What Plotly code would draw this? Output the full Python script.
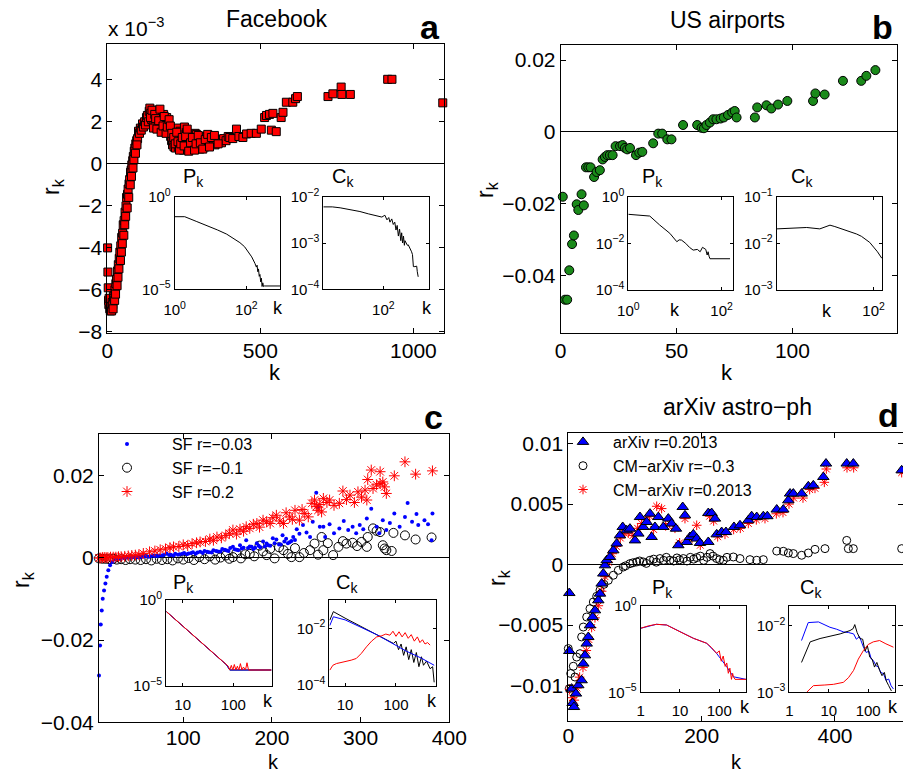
import plotly.graph_objects as go

W, H = 903, 775
FONT = "Liberation Sans, Arial, sans-serif"

# ---------------- DATA ----------------
# (a) Facebook: r_k in units of 1e-3
fb_k = [1, 2, 3, 4, 5, 6, 8, 10, 12, 14,
        16, 18, 20, 22, 25, 28, 30, 33, 36, 39,
        41, 44, 47, 50, 52, 55, 58, 61, 63, 66,
        68, 71, 73, 76, 78, 80, 83, 85, 88, 90,
        93, 96, 99, 102, 105, 108, 111, 115, 118, 122,
        125, 128, 131, 134, 137, 139, 142, 145, 148, 150,
        153, 156, 160, 163, 166, 170, 173, 177, 180, 184,
        187, 190, 194, 197, 200, 204, 207, 210, 213, 215,
        218, 220, 223, 226, 229, 232, 235, 238, 241, 243,
        246, 249, 252, 255, 259, 262, 265, 268, 270, 273,
        276, 280, 283, 287, 291, 295, 298, 302, 306, 310,
        314, 318, 324, 330, 336, 342, 346, 352, 358, 365,
        373, 380, 388, 395, 400, 410, 422, 430, 443, 455,
        470, 487, 503, 514, 520, 530, 536, 541, 552, 568,
        574, 585, 606, 615, 621, 721, 737, 764, 766, 794,
        916, 930, 1096,
        141, 146, 151, 155, 158, 162, 168, 172, 176, 182,
        186, 192, 196, 202, 206, 211, 217, 222, 227, 231,
        236, 240, 245, 251, 256, 261, 266, 272, 278, 285,
        290, 297, 304, 312, 320, 328, 334, 340, 350, 362,
        19, 24, 27, 32, 35, 38, 43, 46, 49, 54,
        57, 60, 65, 70, 75, 79, 84, 87, 92, 97]
fb_r_e3 = [-4.0, -5.15, -5.9, -6.5, -6.7, -6.4, -6.9, -7.0, -6.8, -7.0,
           -6.6, -6.7, -6.3, -6.4, -6.0, -5.7, -5.5, -5.1, -4.8, -4.5,
           -4.2, -3.9, -3.5, -3.3, -2.9, -2.7, -2.3, -2.0, -1.6, -1.45,
           -1.2, -0.95, -0.75, -0.4, -0.3, -0.05, 0.15, 0.35, 0.6, 0.75,
           0.95, 1.1, 1.2, 1.55, 1.45, 1.7, 1.6, 1.9, 1.75, 2.0,
           1.85, 2.2, 2.3, 2.0, 2.5, 2.65, 2.4, 2.1, 2.3, 2.0,
           2.5, 1.8, 2.2, 2.55, 2.5, 1.9, 2.3, 1.9, 2.1, 2.35,
           1.7, 2.0, 2.2, 1.6, 1.9, 1.55, 1.3, 1.1, 0.9, 1.1,
           0.8, 1.35, 0.75, 1.0, 1.7, 0.8, 1.2, 1.55, 0.7, 1.4,
           1.0, 0.65, 1.75, 0.9, 1.5, 0.8, 1.2, 0.7, 0.86, 1.3,
           0.75, 1.1, 0.9, 1.45, 1.4, 0.8, 1.2, 0.7, 1.05, 0.9,
           1.3, 0.8, 1.25, 0.95, 1.1, 1.0, 1.05, 0.9, 1.15, 1.1,
           1.0, 1.2, 1.1, 1.3, 1.25, 1.2, 1.65, 1.3, 1.25, 1.42,
           1.45, 1.45, 1.65, 2.2, 2.3, 2.35, 1.6, 2.4, 1.53, 2.2,
           2.45, 2.93, 2.93, 3.1, 3.2, 3.2, 3.33, 3.65, 3.3, 3.3,
           4.02, 4.02, 2.9,
           2.2, 2.55, 1.7, 2.35, 2.15, 1.65, 2.05, 2.6, 1.5, 1.8,
           2.25, 1.45, 1.75, 2.1, 1.8, 1.45, 1.25, 0.95, 1.5, 1.05,
           0.65, 0.95, 1.25, 0.85, 1.3, 1.65, 0.6, 1.0, 1.25, 0.65,
           0.95, 1.35, 1.0, 0.7, 1.15, 1.4, 0.8, 1.25, 1.35, 0.95,
           -6.9, -6.5, -6.2, -5.8, -5.4, -5.0, -4.6, -4.2, -3.8, -3.4,
           -2.9, -2.5, -2.1, -1.6, -1.0, -0.6, -0.2, 0.2, 0.5, 0.9]
fb_pk_logk = [0, 0.28, 0.6, 0.99, 1.2, 1.45, 1.65, 1.82, 1.95, 2.06, 2.15, 2.24, 2.28, 2.30,
              2.32, 2.34, 2.36, 2.38, 2.40, 2.42, 2.44, 2.46, 2.48, 2.5, 2.94]
fb_pk_logp = [-1.08, -1.08, -1.33, -1.62, -1.8, -2.02, -2.25, -2.48, -2.7, -2.97, -3.25, -3.6, -3.8, -3.7,
              -4.05, -3.9, -4.3, -4.2, -4.6, -4.4, -4.85, -4.65, -4.85, -4.82, -4.82]
fb_ck_logk = [0, 0.3, 0.56, 0.9, 1.22, 1.5, 1.78, 1.95, 2.05, 2.12, 2.18, 2.22, 2.28, 2.33, 2.38, 2.42,
              2.46, 2.5, 2.54, 2.58, 2.61, 2.64, 2.67, 2.7, 2.72, 2.76, 2.8, 2.83, 2.88, 2.94, 2.97,
              3.0, 3.05, 3.11, 3.13, 3.16]
fb_ck_logc = [-2.22, -2.22, -2.24, -2.28, -2.32, -2.37, -2.42, -2.44, -2.40, -2.50, -2.45, -2.55, -2.48,
              -2.60, -2.55, -2.72, -2.62, -2.85, -2.70, -2.95, -2.78, -3.0, -2.85, -3.05, -2.95, -3.02,
              -3.05, -3.04, -3.1, -3.19, -3.25, -3.51, -3.51, -3.5, -3.62, -3.73]

# (b) US airports
ap_k = [0.9, 1.85, 2.8, 3.7, 4.9, 5.7, 6.9, 7.6, 9.0, 10.0,
        10.9, 11.9, 12.9, 14.4, 15.5, 16.9, 18.1, 19.1, 20.1, 21.2,
        22.4, 23.7, 25.6, 26.7, 27.7, 28.7, 29.9, 32.5, 33.9, 35.2,
        39.9, 42.1, 43.8, 46.0, 47.8, 52.8, 58.9, 60.8, 61.8, 62.9,
        64.4, 65.8, 67.2, 69.0, 70.4, 72.2, 74.0, 75.1, 75.9, 83.8,
        84.8, 88.8, 90.9, 93.8, 97.8, 108.9, 109.9, 113.9, 121.8, 129.7,
        131.9, 135.8, 145.1]
ap_r = [-0.0181, -0.0468, -0.0468, -0.0386, -0.0313, -0.0289, -0.0202, -0.0218, -0.0174, -0.0205,
        -0.0099, -0.0099, -0.0099, -0.0126, -0.0112, -0.0107, -0.0077, -0.0070, -0.0065, -0.0065,
        -0.0065, -0.0040, -0.0040, -0.0037, -0.0045, -0.0049, -0.0045, -0.0065, -0.0058, -0.0056,
        -0.0032, -0.0005, -0.0005, -0.0021, -0.0021, 0.0019, 0.0019, 0.0011, 0.0010, 0.0019,
        0.0026, 0.0035, 0.0035, 0.0037, 0.0040, 0.0047, 0.0054, 0.0058, 0.0040, 0.0040,
        0.0068, 0.0074, 0.0065, 0.0076, 0.0086, 0.0086, 0.0107, 0.0104, 0.0142, 0.0142,
        0.0156, 0.0172, 0.0172]
ap_pk_logk = [0, 0.46, 0.67, 0.89, 1.04, 1.09, 1.14, 1.23, 1.31, 1.39, 1.48, 1.54, 1.59, 1.66, 1.69,
              1.71, 1.73, 1.75, 2.18]
ap_pk_logp = [-0.755, -0.83, -1.21, -1.57, -1.93, -1.85, -1.86, -2.0, -2.17, -2.29, -2.26, -2.36, -2.17,
              -2.26, -2.5, -2.36, -2.55, -2.66, -2.66]
ap_ck_logk = [0, 0.62, 0.89, 1.0, 1.10, 1.2, 1.38, 1.5, 1.65, 1.75, 1.86, 1.92, 2.0, 2.08, 2.17]
ap_ck_logc = [-1.69, -1.66, -1.69, -1.64, -1.61, -1.64, -1.70, -1.74, -1.80, -1.85, -1.93, -1.98, -2.08,
              -2.18, -2.32]

# (c) scale-free models
sf1_k = [5, 6.2, 7, 8.1, 9.2, 10.7, 12.2, 13.7, 15.5, 17.5,
         20, 23, 28.7, 33, 38, 43, 48, 53, 58, 63,
         68, 73, 78, 81, 86, 91, 96, 101, 106, 111,
         116, 119, 124, 129, 134, 139, 144, 149, 153, 156,
         160, 164, 168, 171, 175, 179, 183, 187, 190, 194,
         198, 201, 205, 208, 212, 216, 220, 224, 228, 231,
         235, 239, 243, 246, 250, 252, 254, 258, 260, 265,
         270, 276, 281, 286, 291, 295, 299, 303, 307, 312,
         318, 321, 325, 329, 333, 338, 344, 350, 353, 358,
         363, 365, 372, 376, 381, 380,
         26, 31, 36, 41, 46, 51, 56, 61, 66, 71,
         76, 84, 89, 94, 99, 104, 109, 114, 122, 127,
         132, 137, 142, 147, 151, 158, 162, 166, 173, 177,
         181, 185, 192, 196, 203, 210, 214, 218, 222, 226]
sf1_r = [-0.0286, -0.0213, -0.0162, -0.0128, -0.0099, -0.0079, -0.0062, -0.0046, -0.0030, -0.0018,
         -0.0010, -0.0004, -0.0002, 0.0000, 0.0001, 0.0002, 0.0002, 0.0003, 0.0004, 0.0004,
         0.0005, 0.0006, 0.0007, 0.0011, 0.0008, 0.0010, 0.0009, 0.0012, 0.0011, 0.0014,
         0.0013, 0.0015, 0.0017, 0.0014, 0.0019, 0.0016, 0.0022, 0.0018, 0.0024, 0.0027,
         0.0020, 0.0031, 0.0025, 0.0043, 0.0028, 0.0022, 0.0036, 0.0026, 0.0040, 0.0035,
         0.0030, 0.0048, 0.0045, 0.0033, 0.0055, 0.0047, 0.0038, 0.0051, 0.0070, 0.0059,
         0.0080, 0.0062, 0.0051, 0.0088, 0.0159, 0.0124, 0.0076, 0.0076, 0.0051, 0.0082,
         0.0060, 0.0072, 0.0090, 0.0068, 0.0076, 0.0060, 0.0080, 0.0070, 0.0096, 0.0120,
         0.0076, 0.0060, 0.0092, 0.0068, 0.0085, 0.0108, 0.0076, 0.0100, 0.0134, 0.0088,
         0.0107, 0.0080, 0.0092, 0.0082, 0.0108, 0.0043,
         -0.0001, 0.0001, 0.0001, 0.0002, 0.0003, 0.0002, 0.0004, 0.0003, 0.0006, 0.0005,
         0.0006, 0.0007, 0.0006, 0.0008, 0.0010, 0.0009, 0.0012, 0.0010, 0.0012, 0.0015,
         0.0013, 0.0017, 0.0016, 0.0020, 0.0017, 0.0021, 0.0019, 0.0023, 0.0024, 0.0027,
         0.0025, 0.0030, 0.0028, 0.0031, 0.0036, 0.0033, 0.0040, 0.0036, 0.0041, 0.0044]
sf2_k = [5, 9, 13, 17, 21, 25, 30, 35, 40, 46,
         52, 58, 64, 70, 76, 82, 88, 94, 100, 106,
         112, 118, 124, 130, 136, 142, 148, 152, 156, 160,
         165, 170, 175, 180, 186, 190, 194, 198, 203, 208,
         213, 218, 222, 226, 231, 236, 243, 248, 252, 256,
         258, 263, 269, 275, 280, 284, 291, 296, 301, 307,
         308, 314, 318, 322, 325, 327, 329, 335, 337, 350,
         362, 380]
sf2_r = [-0.0001, -0.0002, -0.0002, -0.0003, -0.0002, -0.0004, -0.0003, -0.0005, -0.0003, -0.0004,
         -0.0005, -0.0003, -0.0006, -0.0002, -0.0005, -0.0003, -0.0006, -0.0001, -0.0004, 0.0000,
         -0.0005, 0.0002, -0.0003, 0.0004, -0.0004, 0.0001, 0.0006, -0.0002, 0.0002, 0.0012,
         -0.0001, 0.0009, 0.0010, 0.0004, 0.0030, 0.0016, 0.0007, 0.0022, -0.0001, 0.0026,
         0.0019, 0.0010, 0.0002, 0.0024, 0.0002, 0.0012, 0.0019, 0.0035, 0.0008, 0.0051,
         0.0019, 0.0036, 0.0007, 0.0027, 0.0041, 0.0035, 0.0037, 0.0029, 0.0039, 0.0027,
         0.0051, 0.0072, 0.0066, 0.0063, 0.0031, 0.0023, 0.0019, 0.0017, 0.0061, 0.0055,
         0.0045, 0.0050]
sf3_k = [5, 7, 9, 11, 13, 15, 18, 21, 24, 27,
         30, 34, 38, 42, 46, 50, 55, 62, 68, 74,
         80, 85, 89, 95, 100, 105, 110, 115, 119, 125,
         130, 134, 138, 143, 148, 152, 156, 160, 164, 168,
         171, 175, 179, 183, 186, 190, 194, 198, 201, 205,
         209, 213, 216, 220, 223, 226, 231, 234, 237, 241,
         245, 248, 250, 252, 254, 256, 258, 262, 265, 270,
         276, 280, 284, 288, 293, 297, 301, 305, 307, 308,
         312, 314, 318, 322, 322, 325, 327, 329, 338, 350,
         362, 381]
sf3_r = [0.0000, 0.0000, 0.0001, 0.0001, 0.0001, 0.0001, 0.0002, 0.0002, 0.0002, 0.0003,
         0.0003, 0.0004, 0.0005, 0.0006, 0.0007, 0.0008, 0.0011, 0.0015, 0.0017, 0.0020,
         0.0022, 0.0025, 0.0027, 0.0028, 0.0032, 0.0030, 0.0035, 0.0037, 0.0039, 0.0040,
         0.0046, 0.0043, 0.0051, 0.0049, 0.0055, 0.0060, 0.0068, 0.0058, 0.0070, 0.0065,
         0.0076, 0.0072, 0.0082, 0.0084, 0.0075, 0.0092, 0.0088, 0.0084, 0.0098, 0.0104,
         0.0090, 0.0084, 0.0110, 0.0100, 0.0094, 0.0116, 0.0092, 0.0118, 0.0108, 0.0100,
         0.0133, 0.0141, 0.0125, 0.0116, 0.0130, 0.0112, 0.0145, 0.0135, 0.0141, 0.0128,
         0.0133, 0.0163, 0.0142, 0.0153, 0.0135, 0.0161, 0.0148, 0.0165, 0.0141, 0.0191,
         0.0214, 0.0169, 0.0178, 0.0210, 0.0181, 0.0185, 0.0173, 0.0157, 0.0200, 0.0234,
         0.0204, 0.0212]
sf_pk_logk = [0.68, 1.0, 1.3, 1.6, 1.75, 1.87, 1.93, 2.75]
sf_pk_logp = [-0.68, -1.52, -2.3, -3.08, -3.47, -3.78, -4.07, -4.07]
sf3_pk_logk = [0.68, 1.0, 1.3, 1.6, 1.7, 1.75, 1.8, 1.84, 1.87, 1.9, 1.93, 1.96, 1.99, 2.02, 2.05, 2.08,
               2.11, 2.14, 2.17, 2.2, 2.24, 2.27, 2.3, 2.75]
sf3_pk_logp = [-0.68, -1.52, -2.3, -3.08, -3.3, -3.48, -3.62, -3.7, -3.78, -3.85, -4.07, -3.8, -4.07,
               -3.75, -4.07, -3.85, -4.07, -3.7, -4.07, -3.9, -4.07, -3.65, -4.07, -4.07]
sf2_ck_logk = [0.70, 0.77, 1.0, 1.3, 1.62, 1.8, 1.95, 2.0, 2.05, 2.1, 2.15, 2.2, 2.25, 2.3, 2.35, 2.4,
               2.45, 2.5, 2.54, 2.6, 2.67, 2.72, 2.75]
sf2_ck_logc = [-1.71, -1.41, -1.64, -1.93, -2.23, -2.4, -2.53, -2.45, -2.75, -2.55, -2.95, -2.65, -3.1,
               -2.75, -3.2, -2.85, -3.35, -3.0, -3.3, -3.15, -3.42, -3.35, -3.9]
sf1_ck_logk = [0.70, 0.77, 1.0, 1.3, 1.62, 1.9, 2.2, 2.5, 2.75]
sf1_ck_logc = [-1.9, -1.59, -1.7, -1.95, -2.22, -2.5, -2.8, -3.05, -3.3]
sf3_ck_logk = [0.70, 0.76, 0.83, 0.93, 1.03, 1.12, 1.22, 1.32, 1.42, 1.52, 1.62, 1.72, 1.8, 1.88, 1.94,
               2.0, 2.06, 2.12, 2.18, 2.24, 2.3, 2.36, 2.42, 2.47, 2.52, 2.57, 2.62, 2.67]
sf3_ck_logc = [-3.47, -3.3, -3.24, -3.2, -3.18, -3.12, -3.06, -2.88, -2.65, -2.45, -2.30, -2.26, -2.2,
               -2.24, -2.1, -2.28, -2.12, -2.3, -2.15, -2.35, -2.22, -2.45, -2.3, -2.5, -2.4, -2.55,
               -2.5, -2.59]

# (d) arXiv astro-ph
ax_k = [1.5, 1.5, 5, 6.5, 8.5, 11.5, 15, 20, 22.5, 25,
        27.6, 30, 32.5, 36.6, 40, 45, 47.5, 50, 52.5, 55,
        57.6, 62.5, 67.5, 72.6, 77.5, 81.6, 87.6, 92.5, 100, 105,
        107.5, 112.5, 117.6, 122.5, 125, 130, 135, 142.5, 150, 155,
        161.5, 165, 171.6, 175, 177.6, 182.5, 187.5, 192.6, 197.5, 210,
        210, 215, 220, 222.6, 230, 236.5, 248.5, 257.5, 270, 275,
        282.6, 292.5, 298.5, 312.6, 322.5, 330, 332.6, 337.5, 350, 360,
        367.5, 382.5, 386.5, 417.6, 427.5, 500]
ax_r = [-0.00235, -0.00714, -0.01025, -0.01144, -0.01177, -0.01066, -0.00997, -0.00956, -0.00818, -0.0075,
        -0.00653, -0.00598, -0.00502, -0.00433, -0.00378, -0.00295, -0.0024, -0.00157, -0.00074, -0.00006,
        0.00036, 0.00063, 0.00118, 0.00174, 0.00242, 0.00311, 0.00283, 0.00297, 0.002, 0.00256,
        0.00393, 0.00311, 0.00352, 0.00421, 0.00228, 0.00311, 0.00393, 0.00311, 0.0038, 0.00339,
        0.00297, 0.0016, 0.00476, 0.00407, 0.00187, 0.00228, 0.0025, 0.00215, 0.00179, 0.00187,
        0.00426, 0.00426, 0.0038, 0.0025, 0.00269, 0.00269, 0.00311, 0.00325, 0.00366, 0.004,
        0.00393, 0.004, 0.004, 0.00455, 0.00455, 0.00531, 0.00587, 0.00587, 0.00587, 0.00647,
        0.00655, 0.00724, 0.00835, 0.00835, 0.00835, 0.00779]
cm1_k = [0, 1.5, 3.6, 7.5, 10, 12.6, 17.5, 20, 22.5, 27.6,
         32.5, 37.5, 42.6, 47.5, 53.5, 60, 67.5, 75, 82.5, 92.5,
         102.6, 112.5, 122.5, 137.5, 152.5, 172.5, 192.6, 212.6, 222.6, 232.5,
         247.5, 257.5, 272.5, 282.6, 292.5, 312.6, 322.5, 330, 337.5, 350,
         360, 370, 385, 417.6, 420, 427.5, 500,
         86, 97, 107, 117, 128, 132, 143, 147, 158, 163,
         167, 178, 183, 188, 198, 203, 208, 217, 227, 238]
cm1_r = [-0.00694, -0.01025, -0.009, -0.0084, -0.00929, -0.00764, -0.00736, -0.00598, -0.00516, -0.00433,
         -0.00364, -0.00309, -0.00262, -0.00212, -0.00163, -0.0013, -0.00088, -0.00047, -0.0002, 0.00008,
         0.00022, 0.00022, 0.00036, 0.0005, 0.00036, 0.0005, 0.00058, 0.00091, 0.0005, 0.00036,
         0.00063, 0.0005, 0.00041, 0.00036, 0.00041, 0.00112, 0.0011, 0.00096, 0.00091, 0.00077,
         0.00096, 0.00126, 0.00132, 0.002, 0.00132, 0.00132, 0.00132,
         -0.0001, 0.00015, 0.0003, 0.0001, 0.00045, 0.0002, 0.00035, 0.0006, 0.0003, 0.00055,
         0.0004, 0.0003, 0.0006, 0.00045, 0.0007, 0.00035, 0.0006, 0.0007, 0.0004, 0.0006]
cm2_k = [2, 6, 9, 13, 17, 22, 27, 31, 35, 40,
         45, 50, 55, 60, 66, 72, 78, 84, 90, 97,
         104, 110, 116, 122, 128, 132.6, 140, 146, 152, 160,
         167, 175, 182, 192.6, 198, 212, 218, 224, 235, 248,
         258, 270, 282, 295, 312, 322, 331, 338, 352, 362,
         370, 384, 387, 418, 428, 500]
cm2_r = [-0.0103, -0.0110, -0.0112, -0.0102, -0.0093, -0.0085, -0.0071, -0.0062, -0.0052, -0.0044,
         -0.0034, -0.0022, -0.0010, 0.0002, 0.0009, 0.0015, 0.0022, 0.0026, 0.0026, 0.0024,
         0.0030, 0.0034, 0.0037, 0.0040, 0.0029, 0.00482, 0.00463, 0.0032, 0.0034, 0.0030,
         0.0018, 0.0038, 0.0021, 0.00325, 0.0016, 0.0040, 0.0036, 0.0023, 0.0025, 0.0029,
         0.0030, 0.0034, 0.0037, 0.0038, 0.0042, 0.0043, 0.0050, 0.0055, 0.0055, 0.0062,
         0.0063, 0.0068, 0.0079, 0.0080, 0.0080, 0.0076]
ax_pk_logk = [0, 0.4, 0.66, 1.0, 1.34, 1.68, 1.93, 2.19, 2.36, 2.68]
ax_pk_logp = [-1.29, -1.06, -1.10, -1.49, -1.87, -2.16, -2.74, -3.52, -4.1, -4.25]
cm2_pk_logk = [0, 0.2, 0.40, 0.66, 1.0, 1.34, 1.68, 1.8, 1.93, 2.0, 2.05, 2.1, 2.15, 2.19, 2.23, 2.27,
               2.31, 2.34, 2.36, 2.4, 2.68]
cm2_pk_logp = [-1.29, -1.15, -1.06, -1.10, -1.49, -1.87, -2.16, -2.4, -2.74, -2.6, -3.2, -2.9, -3.5,
               -3.3, -3.9, -3.6, -4.25, -3.9, -4.1, -4.25, -4.25]
ax_ck_logk = [0.31, 0.48, 0.74, 1.03, 1.2, 1.37, 1.5, 1.63, 1.7, 1.78, 1.88, 1.95, 2.02, 2.08, 2.13, 2.2,
              2.26, 2.32, 2.39, 2.45, 2.52, 2.58, 2.64]
ax_ck_logc = [-2.22, -1.95, -1.94, -2.02, -2.05, -2.09, -2.1, -2.12, -2.2, -2.16, -2.32, -2.4, -2.38, -2.5,
              -2.52, -2.6, -2.62, -2.7, -2.72, -2.82, -2.8, -2.9, -2.95]
cm1_ck_logk = [0.31, 0.53, 0.78, 1.04, 1.29, 1.54, 1.62, 1.66, 1.72, 1.79, 1.86, 1.92, 1.98, 2.04, 2.1,
               2.16, 2.22, 2.29, 2.35, 2.41, 2.46, 2.52, 2.59]
cm1_ck_logc = [-2.55, -2.24, -2.19, -2.16, -2.12, -2.07, -2.04, -1.98, -2.1, -2.19, -2.2, -2.38, -2.3,
               -2.47, -2.5, -2.62, -2.55, -2.67, -2.75, -2.7, -2.83, -2.9, -2.98]
cm2_ck_logk = [0.44, 0.61, 0.9, 1.12, 1.37, 1.5, 1.63, 1.75, 1.88, 2.0, 2.13, 2.29, 2.45, 2.64]
cm2_ck_logc = [-3.0, -2.9, -2.89, -2.88, -2.85, -2.78, -2.67, -2.5, -2.37, -2.28, -2.24, -2.22, -2.27,
               -2.32]

legend_c = ["SF r=\u22120.03", "SF r=\u22120.1", "SF r=0.2"]
legend_d = ["arXiv r=0.2013", "CM\u2212arXiv r=\u22120.3", "CM\u2212arXiv r=0.2013"]


def pw(v):
    return [10 ** x for x in v]


# ---------------- LAYOUT HELPERS ----------------
def xd(a, b):
    return [a / W, min(b / W, 1.0)]


def yd(top, bottom):
    return [1 - bottom / H, 1 - top / H]


def axis(dom, rng, tickvals, ticktext=None, log=False, size=21, ticklen=5, anchor=None,
         zeroline=False, standoff=None):
    d = dict(domain=dom, range=rng, type="log" if log else "linear", tickmode="array",
             tickvals=tickvals, showline=True, linecolor="black", linewidth=1, mirror="ticks",
             ticks="inside", ticklen=ticklen, tickcolor="black", tickwidth=1, showgrid=False,
             zeroline=zeroline, zerolinecolor="black", zerolinewidth=1, anchor=anchor,
             automargin=False, title=dict(text=""),
             tickfont=dict(size=size, family=FONT, color="black"), fixedrange=True)
    if ticktext is not None:
        d["ticktext"] = ticktext
    if standoff is not None:
        d["ticklabelstandoff"] = standoff
    return d


def sup(e):
    return "10<sup>%s</sup>" % e


layout = {}
# main panels
layout["xaxis"] = axis(xd(107.3, 444), [0, 1100], [0, 500, 1000], anchor="y", standoff=-1)
layout["yaxis"] = axis(yd(44, 333), [-8.05, 5.7], [-8, -6, -4, -2, 0, 2, 4], anchor="x", zeroline=True)
layout["xaxis2"] = axis(xd(560.7, 896.7), [0, 145], [0, 50, 100], anchor="y2", standoff=-1)
layout["yaxis2"] = axis(yd(45, 332.7), [-0.056, 0.0242], [-0.04, -0.02, 0, 0.02],
                        ["\u22120.04", "\u22120.02", "0", "0.02"], anchor="x2", zeroline=True)
layout["xaxis3"] = axis(xd(99, 449.3), [5, 400], [100, 200, 300, 400], anchor="y3", standoff=-4)
layout["yaxis3"] = axis(yd(434.3, 722.3), [-0.04, 0.0301], [-0.04, -0.02, 0, 0.02],
                        ["\u22120.04", "\u22120.02", "0", "0.02"], anchor="x3", zeroline=True)
layout["xaxis4"] = axis(xd(568.3, 903), [0, 502], [0, 200, 400], anchor="y4", standoff=-4)
layout["yaxis4"] = axis(yd(432.7, 720.7), [-0.0129, 0.0109], [-0.01, -0.005, 0, 0.005, 0.01],
                        ["\u22120.01", "\u22120.005", "0", "0.005", "0.01"], anchor="x4", zeroline=True)
# insets
IS = 15
XS = 7
layout["xaxis5"] = axis(xd(174.7, 280), [0, 2.94], [1, 100], [sup(0), sup(2)], True, IS, 3, "y5",
                        standoff=XS)
layout["yaxis5"] = axis(yd(196.7, 289.3), [-5, 0], [1e-5, 1], [sup("\u22125"), sup(0)], True, IS, 3, "x5")
layout["xaxis6"] = axis(xd(323.3, 429.3), [0, 3.53], [100], [sup(2)], True, IS, 3, "y6", standoff=XS)
layout["yaxis6"] = axis(yd(196.7, 289.3), [-4, -2], [1e-4, 1e-3, 1e-2],
                        [sup("\u22124"), sup("\u22123"), sup("\u22122")], True, IS, 3, "x6")
layout["xaxis7"] = axis(xd(628.3, 733.3), [0, 2.25], [1, 100], [sup(0), sup(2)], True, IS, 3, "y7",
                        standoff=XS)
layout["yaxis7"] = axis(yd(196.7, 290), [-4, 0], [1e-4, 1e-2, 1],
                        [sup("\u22124"), sup("\u22122"), sup(0)], True, IS, 3, "x7")
layout["xaxis8"] = axis(xd(776.7, 882.3), [0, 2.18], [100], [sup(2)], True, IS, 3, "y8", standoff=XS)
layout["yaxis8"] = axis(yd(196.7, 290), [-3, -1], [1e-3, 1e-2, 1e-1],
                        [sup("\u22123"), sup("\u22122"), sup("\u22121")], True, IS, 3, "x8")
layout["xaxis9"] = axis(xd(166, 272.3), [0.67, 2.77], [10, 100], ["10", "100"], True, IS, 3, "y9",
                        standoff=XS - 2)
layout["yaxis9"] = axis(yd(600, 686), [-5, 0], [1e-5, 1], [sup("\u22125"), sup(0)], True, IS, 3, "x9")
layout["xaxis10"] = axis(xd(329.3, 435.7), [0.69, 2.78], [10, 100], ["10", "100"], True, IS, 3, "y10",
                         standoff=XS - 2)
layout["yaxis10"] = axis(yd(600, 686), [-4.03, -1.0], [1e-4, 1e-2], [sup("\u22124"), sup("\u22122")],
                         True, IS, 3, "x10")
layout["xaxis11"] = axis(xd(640.7, 746), [0, 2.68], [1, 10, 100], ["1", "10", "100"], True, IS, 3, "y11",
                         standoff=XS - 2)
layout["yaxis11"] = axis(yd(606, 692.3), [-5, 0], [1e-5, 1], [sup("\u22125"), sup(0)], True, IS, 3, "x11")
layout["xaxis12"] = axis(xd(789.3, 895), [0, 2.68], [1, 10, 100], ["1", "10", "100"], True, IS, 3, "y12",
                         standoff=XS - 2)
layout["yaxis12"] = axis(yd(606, 692.3), [-3.0, -1.7], [1e-3, 1e-2], [sup("\u22123"), sup("\u22122")],
                         True, IS, 3, "x12")

fig = go.Figure()


def sc(x, y, n, **kw):
    xa = "x" if n == 1 else "x%d" % n
    ya = "y" if n == 1 else "y%d" % n
    fig.add_trace(go.Scatter(x=x, y=y, xaxis=xa, yaxis=ya, **kw))


def line(lx, ly, n, color):
    sc(pw(lx), pw(ly), n, mode="lines", line=dict(color=color, width=1), showlegend=False,
       hoverinfo="skip")


# (a)
sc(fb_k, fb_r_e3, 1, mode="markers", showlegend=False, cliponaxis=False,
   marker=dict(symbol="square", size=8, color="#ff0000", line=dict(color="black", width=1)))
line(fb_pk_logk, fb_pk_logp, 5, "black")
line(fb_ck_logk, fb_ck_logc, 6, "black")
# (b)
sc(ap_k, ap_r, 2, mode="markers", showlegend=False, cliponaxis=False,
   marker=dict(symbol="circle", size=9, color="#1a8a1a", line=dict(color="black", width=1)))
line(ap_pk_logk, ap_pk_logp, 7, "black")
line(ap_ck_logk, ap_ck_logc, 8, "black")
# (c)
sc(sf2_k, sf2_r, 3, mode="markers", name=legend_c[1], legend="legend", legendrank=2, cliponaxis=False,
   marker=dict(symbol="circle-open", size=9, color="black", line=dict(color="black", width=1)))
sc(sf1_k, sf1_r, 3, mode="markers", name=legend_c[0], legend="legend", legendrank=1, cliponaxis=False,
   marker=dict(symbol="circle", size=4, color="#0000ff", line=dict(width=0)))
sc(sf3_k, sf3_r, 3, mode="markers", name=legend_c[2], legend="legend", legendrank=3, cliponaxis=False,
   marker=dict(symbol="asterisk-open", size=9, color="#ff0000", line=dict(color="#ff0000", width=1)))
line(sf_pk_logk, sf_pk_logp, 9, "black")
line(sf_pk_logk, sf_pk_logp, 9, "#0000ff")
line(sf3_pk_logk, sf3_pk_logp, 9, "#ff0000")
line(sf2_ck_logk, sf2_ck_logc, 10, "black")
line(sf1_ck_logk, sf1_ck_logc, 10, "#0000ff")
line(sf3_ck_logk, sf3_ck_logc, 10, "#ff0000")
# (d)
sc(cm1_k, cm1_r, 4, mode="markers", name=legend_d[1], legend="legend2", legendrank=2, cliponaxis=False,
   marker=dict(symbol="circle-open", size=8, color="black", line=dict(color="black", width=1)))
sc(cm2_k, cm2_r, 4, mode="markers", name=legend_d[2], legend="legend2", legendrank=3, cliponaxis=False,
   marker=dict(symbol="asterisk-open", size=8, color="#ff0000", line=dict(color="#ff0000", width=1)))
sc(ax_k, ax_r, 4, mode="markers", name=legend_d[0], legend="legend2", legendrank=1, cliponaxis=False,
   marker=dict(symbol="triangle-up", size=10, color="#0000ff", line=dict(color="black", width=1)))
line(ax_pk_logk, ax_pk_logp, 11, "#0000ff")
line(cm2_pk_logk, cm2_pk_logp, 11, "#ff0000")
line(ax_ck_logk, ax_ck_logc, 12, "#0000ff")
line(cm1_ck_logk, cm1_ck_logc, 12, "black")
line(cm2_ck_logk, cm2_ck_logc, 12, "#ff0000")

# ---------------- ANNOTATIONS ----------------
ann = []


def txt(s, x, y, size, xanchor="center", yanchor="middle", bold=False, angle=0):
    ann.append(dict(text="<b>%s</b>" % s if bold else s, x=x / W, y=1 - y / H, xref="paper",
                    yref="paper", showarrow=False, xanchor=xanchor, yanchor=yanchor, textangle=angle,
                    font=dict(size=size, family=FONT, color="black")))


txt("Facebook", 277, 19, 23)
txt("US airports", 727, 20, 23)
txt("arXiv astro\u2212ph", 737, 407, 23)
txt("a", 430, 27, 34, bold=True)
txt("b", 882, 27, 34, bold=True)
txt("c", 433, 417, 34, bold=True)
txt("d", 888, 415, 34, bold=True)
txt("x 10<sup>\u22123</sup>", 106, 27, 21, xanchor="left")
for (x, y) in [(275, 373), (727, 373)]:
    txt("k", x, y, 22)
for x in [273, 736]:
    txt("k", x, 775, 20, yanchor="bottom")
for (x, y) in [(52, 187), (487, 190), (22, 580), (498, 577)]:
    txt("r<sub>k</sub>", x, y, 23, angle=-90)
for (x, y) in [(181, 177), (640, 177), (171, 583), (650, 588)]:
    txt("P<sub>k</sub>", x, y, 20, xanchor="left")
for (x, y) in [(330, 177), (789, 177), (334, 583), (798, 588)]:
    txt("C<sub>k</sub>", x, y, 20, xanchor="left")
for (x, y) in [(278, 308), (427, 308), (675, 310), (827, 311), (268, 701), (432, 701), (745, 707),
               (893, 707)]:
    txt("k", x, y, 18)

layout.update(
    template="none",
    width=W, height=H, autosize=False, margin=dict(l=0, r=0, t=0, b=0, pad=0, autoexpand=False),
    paper_bgcolor="white", plot_bgcolor="white",
    font=dict(family=FONT, color="black"), annotations=ann, showlegend=True,
    legend=dict(x=82 / W, y=1 - 427 / H, xanchor="left", yanchor="top", bgcolor="rgba(0,0,0,0)",
                itemwidth=80, tracegroupgap=0, borderwidth=0,
                font=dict(size=16, family=FONT, color="black")),
    legend2=dict(x=553 / W, y=1 - 425 / H, xanchor="left", yanchor="top", bgcolor="rgba(0,0,0,0)",
                 itemwidth=50, tracegroupgap=0, borderwidth=0,
                 font=dict(size=16, family=FONT, color="black")),
)
fig.update_layout(layout)
# the page's default 8px body margin would shift the fixed-size figure; remove it
fig.write_html("out.html", config={"displayModeBar": False, "staticPlot": True},
               post_script="document.body.style.margin='0px';")
